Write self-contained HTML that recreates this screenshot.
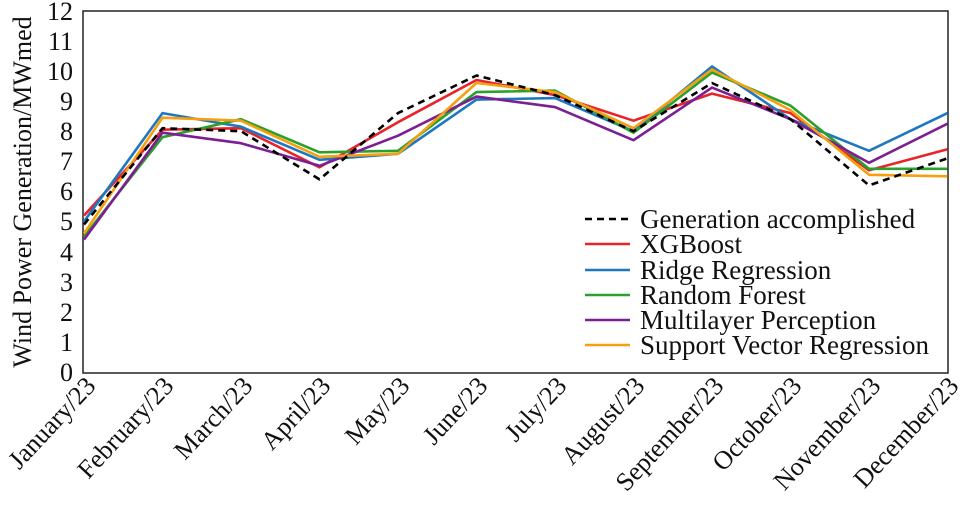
<!DOCTYPE html>
<html><head><meta charset="utf-8"><style>body{margin:0;background:#fff}</style></head><body>
<svg width="960" height="501" xmlns="http://www.w3.org/2000/svg" font-family="Liberation Serif, serif">
<rect x="83" y="11" width="865" height="362" fill="none" stroke="#222" stroke-width="1.5"/>
<g font-size="26" text-anchor="end" fill="#111">
<text x="73" y="381">0</text><text x="73" y="351">1</text><text x="73" y="321">2</text><text x="73" y="291">3</text><text x="73" y="261">4</text><text x="73" y="230">5</text><text x="73" y="200">6</text><text x="73" y="170">7</text><text x="73" y="140">8</text><text x="73" y="110">9</text><text x="73" y="80">10</text><text x="73" y="50">11</text><text x="73" y="20">12</text>
</g>
<text transform="translate(31,192) rotate(-90)" font-size="26" text-anchor="middle" fill="#111">Wind Power Generation/MWmed</text>
<g font-size="26" text-anchor="end" fill="#111">
<text transform="translate(97,387) rotate(-47)">January/23</text>
<text transform="translate(175,387) rotate(-47)">February/23</text>
<text transform="translate(254,387) rotate(-47)">March/23</text>
<text transform="translate(332,387) rotate(-47)">April/23</text>
<text transform="translate(411,387) rotate(-47)">May/23</text>
<text transform="translate(489,387) rotate(-47)">June/23</text>
<text transform="translate(568,387) rotate(-47)">July/23</text>
<text transform="translate(646,387) rotate(-47)">August/23</text>
<text transform="translate(725,387) rotate(-47)">September/23</text>
<text transform="translate(803,387) rotate(-47)">October/23</text>
<text transform="translate(882,387) rotate(-47)">November/23</text>
<text transform="translate(960,387) rotate(-47)">December/23</text>
</g>
<g fill="none" stroke-width="2.6" stroke-linejoin="round">
<polyline stroke="#e8232a" points="84,215.5 162.5,129.7 241,128.2 319.5,167.3 398,122.2 476.5,80.0 555,95.1 633.5,120.7 712,93.6 790.5,113.1 869,170.3 947.5,149.3"/>
<polyline stroke="#1f77c0" points="84,221.5 162.5,113.1 241,126.7 319.5,159.8 398,153.8 476.5,99.6 555,98.1 633.5,131.2 712,66.5 790.5,119.2 869,150.8 947.5,113.1"/>
<polyline stroke="#2ca02c" points="84,236.6 162.5,137.2 241,119.2 319.5,152.3 398,150.8 476.5,92.1 555,90.6 633.5,132.7 712,72.5 790.5,105.6 869,168.8 947.5,168.8"/>
<polyline stroke="#7b1f93" points="84,239.6 162.5,132.7 241,143.2 319.5,165.8 398,135.7 476.5,96.6 555,107.1 633.5,140.2 712,87.6 790.5,119.2 869,162.8 947.5,123.7"/>
<polyline stroke="#f5a00f" points="84,233.5 162.5,117.7 241,120.7 319.5,156.8 398,153.8 476.5,83.0 555,92.1 633.5,128.2 712,69.5 790.5,110.1 869,174.8 947.5,176.3"/>
<polyline stroke="#000" stroke-dasharray="7,5" points="84,224.5 162.5,128.2 241,131.2 319.5,179.4 398,113.1 476.5,75.5 555,95.1 633.5,131.2 712,83.0 790.5,119.2 869,185.4 947.5,158.3"/>
</g>
<g stroke-width="2.6">
<line x1="585" y1="219" x2="630" y2="219" stroke="#000" stroke-dasharray="7,5"/>
<line x1="585" y1="244" x2="630" y2="244" stroke="#e8232a"/>
<line x1="585" y1="270" x2="630" y2="270" stroke="#1f77c0"/>
<line x1="585" y1="295" x2="630" y2="295" stroke="#2ca02c"/>
<line x1="585" y1="320" x2="630" y2="320" stroke="#7b1f93"/>
<line x1="585" y1="345" x2="630" y2="345" stroke="#f5a00f"/>
</g>
<g font-size="27" fill="#111">
<text x="640" y="228">Generation accomplished</text>
<text x="640" y="253">XGBoost</text>
<text x="640" y="279">Ridge Regression</text>
<text x="640" y="304">Random Forest</text>
<text x="640" y="329">Multilayer Perception</text>
<text x="640" y="354">Support Vector Regression</text>
</g>
</svg>
</body></html>
